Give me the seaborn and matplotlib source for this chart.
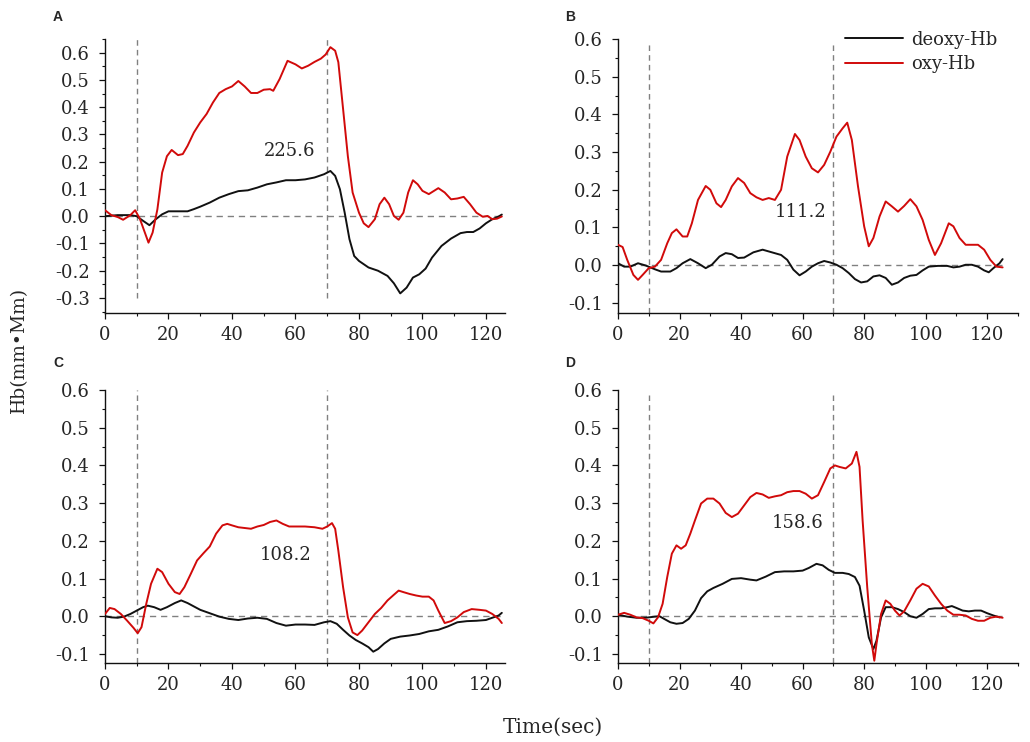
import numpy as np
import pandas as pd
import matplotlib
matplotlib.use("Agg")
import matplotlib.pyplot as plt
from matplotlib.ticker import MultipleLocator, FormatStrFormatter
import seaborn as sns

# ---------------- data ----------------
series_names = ["deoxy-Hb", "oxy-Hb"]
panel_labels = ["A", "B", "C", "D"]
annotations = ["225.6", "111.2", "108.2", "158.6"]

# Panel A
a_oxy_t = [0, 2, 4, 5.7, 8, 9.5, 11, 13.7, 15, 16.5, 18, 19.5, 21, 23, 24.5, 26, 28, 30, 32, 34, 36, 38, 40, 42, 44, 46, 48, 50, 52, 53,
           55, 57.5, 60, 62, 64, 66, 68, 69.5, 71, 72.5, 73.5, 75, 76.5, 78, 80, 81.5, 83, 85, 86.5, 88, 89.5, 91, 92.5, 94, 95.5,
           97, 98.5, 100, 102, 103.5, 105, 107, 109, 111, 113, 115, 117, 119, 120.5, 122, 123.5, 125]
a_oxy_v = [0.022, 0.004, -0.003, -0.013, 0.004, 0.022, -0.01, -0.097, -0.06, 0.025, 0.16, 0.22, 0.243, 0.224, 0.228, 0.258, 0.307,
           0.344, 0.375, 0.417, 0.452, 0.466, 0.476, 0.496, 0.476, 0.452, 0.452, 0.464, 0.466, 0.46, 0.503, 0.57, 0.557, 0.542,
           0.552, 0.566, 0.578, 0.593, 0.62, 0.607, 0.565, 0.393, 0.22, 0.087, 0.013, -0.026, -0.04, -0.011, 0.044, 0.068, 0.044,
           0.001, -0.013, 0.013, 0.087, 0.132, 0.117, 0.093, 0.081, 0.092, 0.103, 0.087, 0.062, 0.065, 0.071, 0.044, 0.013,
           -0.002, 0.001, -0.011, -0.009, -0.001]
a_deoxy_t = [0, 4, 8, 10, 12, 14, 16, 18, 20, 22, 26, 28, 30, 33, 36, 39, 42, 45, 48, 51, 54, 57, 60, 63, 66, 69, 71, 72.5, 74,
             75.5, 77, 78.5, 80, 83, 86, 89, 91, 93, 95, 97, 99, 101, 103, 106, 109, 112, 114, 116, 118, 120, 122, 124, 125]
a_deoxy_v = [0.0, 0.004, 0.004, 0.0, -0.017, -0.033, -0.011, 0.007, 0.018, 0.018, 0.018, 0.026, 0.035, 0.05, 0.068, 0.081, 0.092,
             0.095, 0.105, 0.117, 0.124, 0.132, 0.132, 0.135, 0.142, 0.154, 0.166, 0.148, 0.099, 0.013, -0.084, -0.146, -0.164,
             -0.188, -0.2, -0.219, -0.246, -0.283, -0.262, -0.225, -0.213, -0.192, -0.152, -0.109, -0.082, -0.062, -0.058,
             -0.058, -0.045, -0.026, -0.011, -0.001, 0.006]

# Panel B
b_oxy_t = [0, 1.5, 3, 5, 6.5, 8, 10, 12, 14, 16, 17.5, 19, 21, 22.5, 24, 26, 28.5, 30, 32, 33.5, 35, 37, 39, 41, 43, 45, 47, 49,
           51, 53, 55, 57.5, 59, 61, 63, 65, 67, 69, 71, 73, 74.5, 76, 78, 80, 81.5, 83, 85, 87, 89, 91, 93, 95, 97, 99, 101,
           103, 105, 107.5, 109, 111, 113, 115, 117, 119, 121, 123, 125]
b_oxy_v = [0.054, 0.048, 0.014, -0.026, -0.039, -0.026, -0.008, -0.004, 0.014, 0.058, 0.085, 0.095, 0.076, 0.076, 0.111, 0.173,
           0.21, 0.2, 0.164, 0.154, 0.173, 0.209, 0.231, 0.218, 0.191, 0.18, 0.173, 0.178, 0.173, 0.2, 0.288, 0.348, 0.332,
           0.288, 0.257, 0.246, 0.266, 0.301, 0.341, 0.363, 0.378, 0.332, 0.209, 0.103, 0.05, 0.072, 0.129, 0.169, 0.156,
           0.142, 0.157, 0.175, 0.156, 0.12, 0.067, 0.027, 0.058, 0.111, 0.103, 0.072, 0.054, 0.054, 0.054, 0.041, 0.014,
           -0.004, -0.006]
b_deoxy_t = [0, 2, 4, 6.5, 9, 12, 14, 17, 19, 21, 23.5, 26, 28.5, 30.5, 33, 35, 37, 39, 41, 44, 47, 50, 53, 55, 57, 59, 61, 63,
             65, 67, 69, 71, 73, 75, 77, 79, 81, 83, 85, 87, 89, 91, 93, 95, 97, 99, 101, 104, 107, 109, 111, 113, 115, 117,
             119, 120.5, 122, 124, 125]
b_deoxy_v = [0.005, -0.004, -0.004, 0.005, -0.001, -0.011, -0.017, -0.017, -0.008, 0.005, 0.016, 0.005, -0.008, 0.001, 0.023,
             0.032, 0.029, 0.019, 0.02, 0.034, 0.041, 0.034, 0.027, 0.014, -0.012, -0.027, -0.017, -0.004, 0.005, 0.011, 0.007,
             0.001, -0.008, -0.021, -0.037, -0.046, -0.043, -0.03, -0.027, -0.034, -0.052, -0.046, -0.034, -0.028, -0.026,
             -0.014, -0.004, -0.002, -0.002, -0.006, -0.004, 0.001, 0.001, -0.004, -0.014, -0.019, -0.008, 0.005, 0.016]

# Panel C
c_oxy_t = [0, 1.5, 3, 5, 7, 9, 10.3, 11.5, 13, 14.5, 16.5, 18, 20, 22, 23.5, 25, 27, 29, 31, 33, 35, 37, 38.5, 40, 42, 44, 46,
           48, 50, 52, 54, 56, 58, 60, 63, 66, 68.5, 70, 71.5, 72.5, 73.5, 75, 76.5, 78, 79.5, 81, 83, 85, 87, 89, 91, 92.5,
           94, 96, 98, 100, 102, 103.5, 105, 107, 109, 111, 113, 115.5, 118, 120, 122, 124, 125]
c_oxy_v = [0.006, 0.022, 0.019, 0.006, -0.012, -0.031, -0.045, -0.029, 0.033, 0.086, 0.126, 0.117, 0.086, 0.064, 0.059, 0.077,
           0.112, 0.148, 0.167, 0.185, 0.219, 0.241, 0.245, 0.241, 0.236, 0.234, 0.232, 0.238, 0.242, 0.25, 0.254, 0.245,
           0.238, 0.238, 0.238, 0.236, 0.232, 0.238, 0.247, 0.232, 0.174, 0.077, -0.003, -0.043, -0.05, -0.038, -0.016,
           0.006, 0.022, 0.042, 0.057, 0.068, 0.064, 0.059, 0.055, 0.052, 0.052, 0.042, 0.015, -0.018, -0.013, -0.003,
           0.011, 0.019, 0.017, 0.015, 0.006, -0.007, -0.018]
c_deoxy_t = [0, 2, 4, 6, 8, 10, 12, 13.5, 15.5, 17.5, 19.5, 22, 24, 26, 28, 30, 33, 36, 39, 42, 45, 48, 51, 54, 57, 60, 63, 66,
             69, 71, 73, 75, 77, 79, 81, 83, 84.5, 86, 88, 90, 93, 96, 99, 102, 105, 108, 111, 114, 117, 120, 122, 124, 125]
c_deoxy_v = [0.0, -0.003, -0.004, -0.001, 0.006, 0.015, 0.024, 0.028, 0.024, 0.017, 0.024, 0.035, 0.042, 0.035, 0.026, 0.017,
             0.008, -0.001, -0.007, -0.01, -0.006, -0.004, -0.007, -0.018, -0.025, -0.022, -0.022, -0.023, -0.016, -0.013,
             -0.02, -0.036, -0.051, -0.063, -0.072, -0.082, -0.094, -0.087, -0.072, -0.06, -0.054, -0.051, -0.047, -0.04,
             -0.036, -0.027, -0.016, -0.013, -0.012, -0.01, -0.004, 0.002, 0.009]

# Panel D
d_oxy_t = [0, 2, 4, 6, 8, 10, 11.5, 13, 14.5, 16, 17.5, 19, 20.5, 22, 23.5, 25, 27, 29, 31, 33, 35, 37, 39, 41, 43, 45, 47, 49,
           51, 53, 55, 57, 59, 61, 63, 65, 67, 69, 70.5, 72, 74, 76, 77.5, 78.5, 79.5, 81, 82.5, 83.3, 84, 85.5, 87, 88.5, 90,
           91.5, 93, 95, 97, 99, 101, 103, 105, 107, 109, 111, 113, 115, 117, 119, 121, 123, 125]
d_oxy_v = [0.004, 0.009, 0.004, -0.003, -0.005, -0.012, -0.019, -0.003, 0.033, 0.104, 0.166, 0.188, 0.179, 0.188, 0.219, 0.254,
           0.299, 0.312, 0.312, 0.299, 0.274, 0.263, 0.272, 0.294, 0.316, 0.327, 0.323, 0.314, 0.318, 0.321, 0.329, 0.332,
           0.332, 0.325, 0.312, 0.321, 0.356, 0.392, 0.4, 0.396, 0.392, 0.405, 0.436, 0.396, 0.254, 0.077, -0.074, -0.118,
           -0.074, 0.006, 0.042, 0.033, 0.015, 0.002, 0.013, 0.042, 0.073, 0.086, 0.079, 0.055, 0.033, 0.015, 0.004, 0.004,
           0.002, -0.007, -0.012, -0.012, -0.004, -0.001, -0.004]
d_deoxy_t = [0, 3, 6, 9, 12, 13.5, 15, 17, 19, 21, 23, 25, 27, 29, 31, 34, 37, 40, 43, 45, 48, 51, 54, 57, 60, 62, 64.5, 66.5,
             68.5, 70.5, 73, 75, 77, 78.5, 80, 81.5, 83, 84, 85.5, 87, 89, 91, 93, 95, 97, 99, 101, 103, 105, 107, 108.5, 110,
             112, 114, 116, 118, 120, 122, 124]
d_deoxy_v = [0.004, -0.001, -0.004, -0.004, -0.001, 0.0, -0.007, -0.016, -0.02, -0.018, -0.007, 0.015, 0.048, 0.066, 0.075,
             0.086, 0.099, 0.101, 0.097, 0.095, 0.105, 0.117, 0.119, 0.119, 0.121, 0.128, 0.139, 0.135, 0.123, 0.115, 0.115,
             0.112, 0.104, 0.081, 0.015, -0.056, -0.087, -0.065, -0.003, 0.024, 0.024, 0.019, 0.011, 0.0, -0.004, 0.006, 0.019,
             0.021, 0.021, 0.024, 0.027, 0.022, 0.015, 0.013, 0.015, 0.015, 0.008, 0.002, -0.003]

panels = [
    (a_deoxy_t, a_deoxy_v, a_oxy_t, a_oxy_v),
    (b_deoxy_t, b_deoxy_v, b_oxy_t, b_oxy_v),
    (c_deoxy_t, c_deoxy_v, c_oxy_t, c_oxy_v),
    (d_deoxy_t, d_deoxy_v, d_oxy_t, d_oxy_v),
]

# ---------------- styling / layout ----------------
sns.set_style("ticks")
plt.rcParams["font.family"] = ["DejaVu Serif", "Liberation Serif"]
plt.rcParams["axes.unicode_minus"] = False

W, H = 1030, 742
fig = plt.figure(figsize=(W / 100, H / 100), dpi=100)

# axes boxes in pixels: left, top, right, bottom
boxes = [(105, 39, 505, 313), (618, 39, 1018, 313), (105, 390, 505, 663), (618, 390, 1018, 663)]
xlims = [(0, 126), (0, 130), (0, 126), (0, 130)]
ylims = [(-0.355, 0.65), (-0.127, 0.6), (-0.124, 0.6), (-0.124, 0.6)]
vl_span = [(0.055, 1.0), (0.0, 0.985), (0.0, 1.0), (0.0, 0.98)]
ann_xy = [(58, 0.238), (59.5, 0.14), (57, 0.162), (58.5, 0.247)]
label_pos = [(53, 10), (565, 10), (53, 356), (565, 356)]

palette = {"deoxy-Hb": "#111111", "oxy-Hb": "#d10a0a"}
tick_fs = 13

for i, (dt, dv, ot, ov) in enumerate(panels):
    l, t, r, b = boxes[i]
    ax = fig.add_axes([l / W, 1 - b / H, (r - l) / W, (b - t) / H])
    df = pd.concat([
        pd.DataFrame({"time": dt, "value": dv, "series": "deoxy-Hb"}),
        pd.DataFrame({"time": ot, "value": ov, "series": "oxy-Hb"}),
    ], ignore_index=True)

    # reference lines
    ax.hlines(0, 0, 125, colors="#808080", linestyles=(0, (4.5, 3.5)), linewidth=1.0, zorder=1)
    for xv in (10, 70):
        ax.axvline(xv, ymin=vl_span[i][0], ymax=vl_span[i][1], color="#808080",
                   linestyle=(0, (4, 3)), linewidth=1.0, zorder=1)

    sns.lineplot(data=df, x="time", y="value", hue="series", palette=palette,
                 estimator=None, sort=False, linewidth=1.4, ax=ax, legend=(i == 1), zorder=3)

    ax.set_xlim(*xlims[i])
    ax.set_ylim(*ylims[i])
    ax.set_xlabel("")
    ax.set_ylabel("")
    ax.xaxis.set_major_locator(MultipleLocator(20))
    ax.xaxis.set_minor_locator(MultipleLocator(10))
    ax.yaxis.set_major_locator(MultipleLocator(0.1))
    ax.yaxis.set_minor_locator(MultipleLocator(0.05))
    ax.yaxis.set_major_formatter(FormatStrFormatter("%.1f"))
    for s in ("top", "right"):
        ax.spines[s].set_visible(False)
    for s in ("left", "bottom"):
        ax.spines[s].set_linewidth(1.0)
        ax.spines[s].set_color("#111111")
    ax.tick_params(axis="both", which="major", direction="out", length=4, width=0.9,
                   labelsize=tick_fs, color="#111111")
    ax.tick_params(axis="both", which="minor", direction="out", length=2.5, width=0.8, color="#111111")
    ax.tick_params(axis="y", which="major", pad=7)
    ax.tick_params(axis="x", which="major", pad=5)

    ax.text(ann_xy[i][0], ann_xy[i][1], annotations[i], fontsize=tick_fs, ha="center", va="center", zorder=4)

    if i == 1:
        handles, labels = ax.get_legend_handles_labels()
        ax.legend(handles, labels, loc="upper left", bbox_to_anchor=(0.567, 1.03), frameon=False,
                  fontsize=tick_fs, handlelength=3.2, handletextpad=0.5, borderpad=0,
                  borderaxespad=0, labelspacing=0.35)

    lx, ly = label_pos[i]
    fig.text(lx / W, 1 - ly / H, panel_labels[i], fontsize=10, fontweight="bold",
             family=["Liberation Sans", "DejaVu Sans"], ha="left", va="top")

fig.text(19 / W, 1 - 350 / H, "Hb(mm\u2022Mm)", rotation=90, ha="center", va="center", fontsize=13.5)
fig.text(553 / W, 1 - 727 / H, "Time(sec)", ha="center", va="center", fontsize=14.5)

fig.savefig("out.png", dpi=100)
